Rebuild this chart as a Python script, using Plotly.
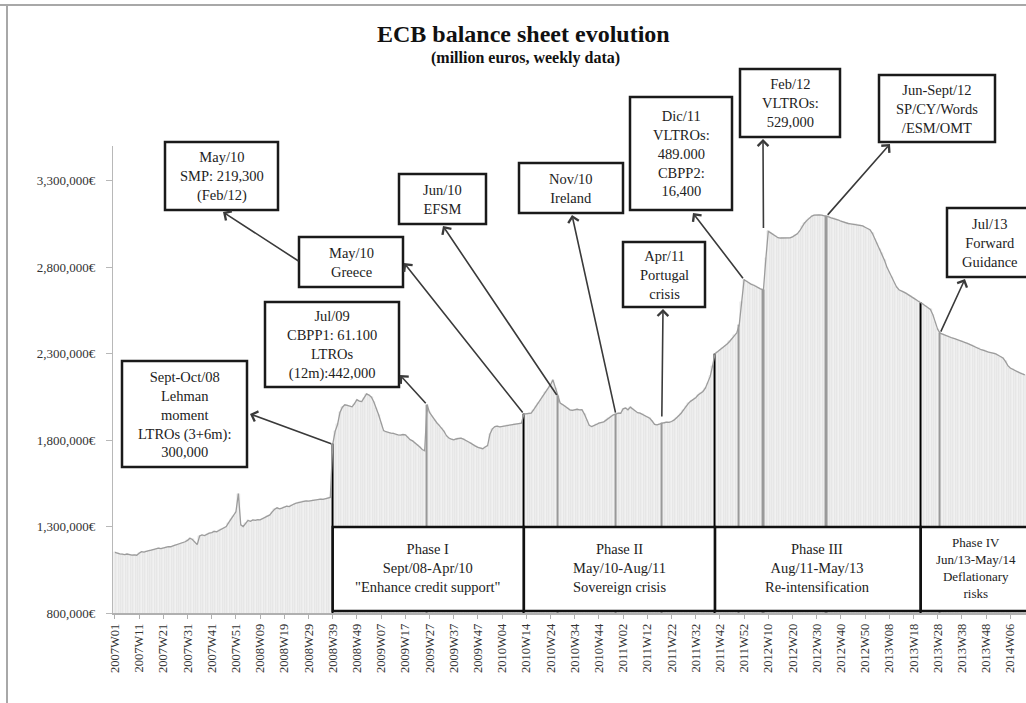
import datetime
import plotly.graph_objects as go

# ---------------- data (billion euros) ----------------
balance_2007 = [1150, 1145, 1142, 1140, 1138, 1141, 1137, 1135, 1136, 1134,
                1145, 1155, 1152, 1158, 1160, 1163, 1166, 1170, 1175, 1172,
                1178, 1180, 1184, 1183, 1188, 1192, 1196, 1200, 1205, 1212,
                1220, 1232, 1225, 1212, 1195, 1245, 1252, 1248, 1256, 1262,
                1265, 1272, 1270, 1278, 1285, 1290, 1300, 1322, 1345, 1360,
                1385, 1490]
balance_2008 = [1310, 1300, 1318, 1335, 1330, 1338, 1336, 1340, 1338, 1345,
                1350, 1358, 1367, 1385, 1400, 1408, 1402, 1406, 1412, 1418,
                1415, 1425, 1430, 1436, 1440, 1444, 1446, 1448, 1447, 1450,
                1452, 1454, 1455, 1458, 1457, 1460, 1463, 1468, 1775, 1850,
                1890, 1960, 1990, 2004, 2000, 1995, 1992, 2010, 2033, 2025,
                2022, 2045]
balance_2009 = [2067, 2060, 2048, 2020, 1985, 1945, 1900, 1855, 1848, 1842,
                1840, 1838, 1832, 1830, 1828, 1832, 1830, 1815, 1802, 1795,
                1785, 1772, 1760, 1745, 1738, 2004, 1960, 1940, 1918, 1900,
                1885, 1869, 1850, 1825, 1812, 1805, 1801, 1806, 1810, 1811,
                1805, 1795, 1790, 1782, 1772, 1765, 1758, 1753, 1750, 1760,
                1768, 1835, 1865]
balance_2010 = [1878, 1880, 1876, 1878, 1882, 1885, 1886, 1888, 1890, 1893,
                1895, 1898, 1950, 1952, 1955, 1955, 1975, 1995, 2015, 2033,
                2055, 2080, 2095, 2120, 2148, 2100, 2052, 2014, 2005, 1995,
                1985, 1975, 1972, 1976, 1978, 1974, 1975, 1950, 1915, 1885,
                1878, 1882, 1890, 1898, 1900, 1905, 1915, 1925, 1940, 1946,
                1950, 1955]
balance_2011 = [1955, 1980, 1985, 1975, 1990, 1980, 1968, 1958, 1955, 1948,
                1940, 1933, 1926, 1910, 1890, 1888, 1893, 1898, 1900, 1903,
                1902, 1907, 1915, 1928, 1940, 1955, 1975, 1995, 2012, 2025,
                2033, 2045, 2060, 2072, 2081, 2100, 2130, 2168, 2230, 2299,
                2310, 2320, 2330, 2342, 2355, 2370, 2385, 2405, 2420, 2467,
                2600, 2727]
balance_2012 = [2718, 2708, 2700, 2695, 2689, 2680, 2672, 2669, 2850, 3007,
                2998, 2990, 2980, 2970, 2968, 2969, 2968, 2970, 2969, 2975,
                2985, 2992, 3010, 3036, 3055, 3070, 3084, 3095, 3100, 3103,
                3102, 3100, 3098, 3093, 3090, 3085, 3082, 3078, 3072, 3065,
                3060, 3055, 3052, 3050, 3048, 3047, 3045, 3042, 3038, 3030,
                3022, 3016]
balance_2013 = [2995, 2965, 2940, 2905, 2880, 2840, 2800, 2770, 2740, 2710,
                2685, 2669, 2660, 2655, 2648, 2640, 2632, 2622, 2612, 2602,
                2595, 2585, 2575, 2566, 2555, 2525, 2480, 2440, 2418, 2412,
                2405, 2400, 2395, 2390, 2386, 2380, 2375, 2370, 2363, 2360,
                2355, 2348, 2342, 2335, 2330, 2322, 2318, 2312, 2308, 2305,
                2303, 2298]
balance_2014 = [2290, 2282, 2274, 2255, 2230, 2216, 2208, 2200, 2195, 2188,
                2182, 2177]

balance_bn = (balance_2007 + balance_2008 + balance_2009 + balance_2010 +
              balance_2011 + balance_2012 + balance_2013 + balance_2014)
balance = [v * 1000 for v in balance_bn]          # million euros

# ISO week categories 2007W01 ...
start = datetime.date(2007, 1, 1)
weeks = []
for i in range(len(balance)):
    iy, iw, _ = (start + datetime.timedelta(weeks=i)).isocalendar()
    weeks.append(f"{iy}W{iw:02d}")

tick_labels = ["2007W01", "2007W11", "2007W21", "2007W31", "2007W41", "2007W51",
               "2008W09", "2008W19", "2008W29", "2008W39", "2008W49",
               "2009W07", "2009W17", "2009W27", "2009W37", "2009W47",
               "2010W04", "2010W14", "2010W24", "2010W34", "2010W44",
               "2011W02", "2011W12", "2011W22", "2011W32", "2011W42", "2011W52",
               "2012W10", "2012W20", "2012W30", "2012W40", "2012W50",
               "2013W08", "2013W18", "2013W28", "2013W38", "2013W48",
               "2014W06"]
y_ticks = [800000, 1300000, 1800000, 2300000, 2800000, 3300000]
y_tick_text = ["800,000€", "1,300,000€", "1,800,000€", "2,300,000€",
               "2,800,000€", "3,300,000€"]

phase_weeks = ["2008W39", "2010W13", "2011W40", "2013W21"]
event_weeks = ["2009W26", "2010W27", "2010W51", "2011W18",
               "2011W50", "2012W08", "2012W34", "2013W29"]

phase_labels = ["Phase I<br>Sept/08-Apr/10<br>\"Enhance credit support\"",
                "Phase II<br>May/10-Aug/11<br>Sovereign crisis",
                "Phase III<br>Aug/11-May/13<br>Re-intensification",
                "Phase IV<br>Jun/13-May/14<br>Deflationary<br>risks"]

# ---------------- geometry ----------------
W, H = 1026, 703
ML, MR, MT, MB = 113, 0, 146, 90
PW, PH = W - ML - MR, H - MT - MB
XR = [-0.8, 376.5]
YR = [800000, 3500000]
FONT = "Liberation Serif"


def px2x(px):
    return XR[0] + (px - ML) / PW * (XR[1] - XR[0])


def py2y(py):
    return YR[0] + (H - MB - py) / PH * (YR[1] - YR[0])


def ppx(px):
    return (px - ML) / PW


def ppy(py):
    return (H - MB - py) / PH


xs = list(range(len(balance)))
idx = {w: i for i, w in enumerate(weeks)}
phase_idx = [idx[w] for w in phase_weeks]
event_idx = [idx[w] for w in event_weeks]

colors = []
line_colors = []
for i in xs:
    if i in phase_idx:
        colors.append("#000000"); line_colors.append("#000000")
    elif i in event_idx:
        colors.append("#9a9a9a"); line_colors.append("#9a9a9a")
    else:
        colors.append("#f1f1f1"); line_colors.append("#d8d8d8")

fig = go.Figure()
fig.add_trace(go.Bar(x=xs, y=balance, marker=dict(color=colors,
                     line=dict(color=line_colors, width=0.4)),
                     width=1.0, hoverinfo="skip", showlegend=False))
fig.add_trace(go.Scatter(x=xs, y=balance, mode="lines",
                         line=dict(color="#9c9c9c", width=1.3),
                         hoverinfo="skip", showlegend=False))

shapes = []
annotations = []

# outer frame of the picture
shapes.append(dict(type="line", xref="paper", yref="paper",
                   x0=ppx(0), x1=ppx(W + 5), y0=ppy(5), y1=ppy(5),
                   line=dict(color="#a8a8a8", width=2)))
shapes.append(dict(type="line", xref="paper", yref="paper",
                   x0=ppx(7), x1=ppx(7), y0=ppy(4), y1=ppy(H + 5),
                   line=dict(color="#a8a8a8", width=2)))


def text_ann(x, y, txt, size, xref="paper", yref="paper", color="#222"):
    return dict(x=x, y=y, xref=xref, yref=yref, text=txt, showarrow=False,
                xanchor="center", yanchor="middle", align="center",
                font=dict(family=FONT, size=size, color=color))


# phase boxes
for k in range(4):
    x0 = phase_idx[k]
    x1 = phase_idx[k + 1] if k < 3 else XR[1] + 6
    shapes.append(dict(type="rect", xref="x", yref="paper",
                       x0=x0, x1=x1, y0=ppy(611), y1=ppy(527),
                       fillcolor="white", line=dict(color="#111", width=2.5),
                       layer="above"))
    cx = (x0 + min(x1, XR[1] + 2)) / 2
    annotations.append(text_ann(cx, ppy(568), phase_labels[k],
                                14.5 if k < 3 else 13, xref="x"))

# event boxes (pixel layout)
boxes = [
    (122, 247, 361, 467, "Sept-Oct/08<br>Lehman<br>moment<br>LTROs (3+6m):<br>300,000"),
    (265, 399, 302, 387, "Jul/09<br>CBPP1: 61.100<br>LTROs<br>(12m):442,000"),
    (299, 403, 237, 287, "May/10<br>Greece"),
    (165, 278, 142, 210, "May/10<br>SMP: 219,300<br>(Feb/12)"),
    (399, 486, 174, 224, "Jun/10<br>EFSM"),
    (519, 623, 163, 213, "Nov/10<br>Ireland"),
    (630, 732, 97, 210, "Dic/11<br>VLTROs:<br>489.000<br>CBPP2:<br>16,400"),
    (623, 705, 242, 307, "Apr/11<br>Portugal<br>crisis"),
    (740, 840, 69, 137, "Feb/12<br>VLTROs:<br>529,000"),
    (879, 995, 75, 142, "Jun-Sept/12<br>SP/CY/Words<br>/ESM/OMT"),
    (947, 1033, 208, 277, "Jul/13<br>Forward<br>Guidance"),
]
for x0, x1, y0, y1, txt in boxes:
    shapes.append(dict(type="rect", xref="paper", yref="paper",
                       x0=ppx(x0), x1=ppx(x1), y0=ppy(y1), y1=ppy(y0),
                       fillcolor="white", line=dict(color="#1a1a1a", width=2.5),
                       layer="above"))
    annotations.append(text_ann(ppx((x0 + x1) / 2), ppy((y0 + y1) / 2), txt, 14.5))

# arrows: (head px x, head px y, tail week index, tail value)
arrows = [
    (250, 414, idx["2008W39"], balance[idx["2008W39"]]),
    (400, 375, idx["2009W26"], balance[idx["2009W26"]]),
    (404, 263, idx["2010W13"], balance[idx["2010W13"]]),
    (443, 226, idx["2010W27"], balance[idx["2010W27"]]),
    (572, 215, idx["2010W51"], balance[idx["2010W51"]]),
    (663, 309, idx["2011W18"], balance[idx["2011W18"]] + 30000),
    (693, 213, idx["2011W52"], balance[idx["2011W52"]]),
    (763, 139, idx["2012W08"], balance[idx["2012W10"]] + 10000),
    (890, 144, idx["2012W34"], balance[idx["2012W34"]]),
    (965, 279, idx["2013W29"], balance[idx["2013W29"]]),
]
for hx, hy, tx, ty in arrows:
    annotations.append(dict(x=px2x(hx), y=py2y(hy), xref="x", yref="y",
                            ax=tx, ay=ty, axref="x", ayref="y", text="",
                            showarrow=True, arrowhead=4, arrowsize=1.3,
                            arrowwidth=1.6, arrowcolor="#3a3a3a", standoff=0))
# Greece box -> SMP box arrow
annotations.append(dict(x=px2x(223), y=py2y(212), xref="x", yref="y",
                        ax=px2x(300), ay=py2y(262), axref="x", ayref="y", text="",
                        showarrow=True, arrowhead=4, arrowsize=1.3,
                        arrowwidth=1.6, arrowcolor="#3a3a3a", standoff=0))

# titles
annotations.append(text_ann(ppx(523), ppy(34), "<b>ECB balance sheet evolution</b>", 24, color="#111"))
annotations.append(text_ann(ppx(525), ppy(58), "<b>(million euros, weekly data)</b>", 16, color="#111"))

fig.update_layout(
    width=W, height=H,
    margin=dict(l=ML, r=MR, t=MT, b=MB, autoexpand=False),
    paper_bgcolor="white", plot_bgcolor="white",
    bargap=0, showlegend=False,
    shapes=shapes, annotations=annotations,
    xaxis=dict(range=XR, tickmode="array",
               tickvals=[idx[t] for t in tick_labels], ticktext=tick_labels,
               tickangle=-90, tickfont=dict(family=FONT, size=12.5, color="#333"),
               showgrid=False, zeroline=False, showline=True,
               linecolor="#b0b0b0", linewidth=1.5, ticks="outside",
               ticklen=4, tickcolor="#b0b0b0"),
    yaxis=dict(range=YR, tickmode="array", tickvals=y_ticks, ticktext=y_tick_text,
               tickfont=dict(family=FONT, size=13, color="#333"),
               showgrid=False, zeroline=False, showline=True,
               linecolor="#b8b8b8", linewidth=1.2, ticks="outside",
               ticklen=6, tickcolor="#b8b8b8", ticklabelstandoff=8),
)

fig.write_html("out.html", config={"displayModeBar": False},
               post_script="document.body.style.margin='0px';document.body.style.overflow='hidden';")
